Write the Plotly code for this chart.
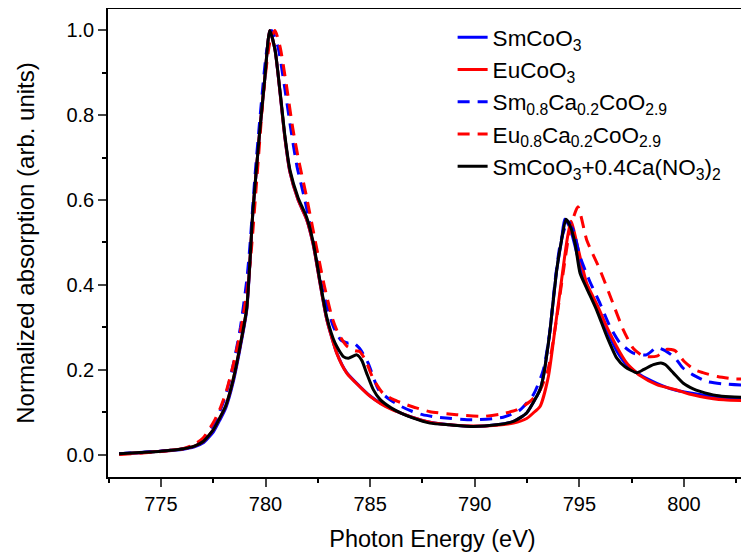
import plotly.graph_objects as go

# ---- data ----
black_x = [773.0, 774.0, 775.0, 776.0, 776.6, 777.0, 777.5, 777.8, 778.1, 778.45, 778.8, 779.1, 779.4,
           779.7, 779.97, 780.2, 780.45, 780.7, 780.93, 781.17, 781.56, 781.96, 782.28, 782.6, 782.92,
           783.32, 783.72, 783.96, 784.36, 784.6, 784.83, 785.15, 785.47, 786.0, 786.5, 787.0, 787.86,
           788.8, 789.93, 791.04, 791.85, 792.48, 792.96, 793.12, 793.28, 793.52, 793.6, 793.92, 794.15,
           794.36, 794.55, 794.79, 795.03, 795.35, 795.83, 796.3, 796.78, 797.18, 797.74, 798.06, 798.54,
           798.9, 799.1, 799.5, 799.97, 800.44, 800.77, 801.55, 802.2, 803.0, 803.5]
black_y = [0.002, 0.005, 0.008, 0.013, 0.02, 0.03, 0.058, 0.085, 0.115, 0.176, 0.26, 0.345, 0.577,
           0.75, 0.89, 1.0, 0.955, 0.853, 0.75, 0.67, 0.605, 0.56, 0.5, 0.41, 0.325,
           0.263, 0.231, 0.227, 0.235, 0.222, 0.192, 0.153, 0.13, 0.11, 0.097, 0.087, 0.074,
           0.07, 0.066, 0.07, 0.078, 0.098, 0.137, 0.153, 0.184, 0.263, 0.294, 0.436, 0.506,
           0.555, 0.54, 0.499, 0.428, 0.392, 0.34, 0.28, 0.228, 0.207, 0.193, 0.2, 0.212,
           0.216, 0.212, 0.192, 0.168, 0.155, 0.149, 0.139, 0.136, 0.135, 0.135]

eu_x = [773.0, 774.0, 775.0, 776.0, 776.6, 777.0, 777.5, 777.8, 778.1, 778.45, 778.8, 779.1, 779.4,
        779.7, 779.97, 780.2, 780.45, 780.7, 780.93, 781.17, 781.56, 781.96, 782.28, 782.6, 782.92,
        783.4, 783.88, 784.5, 785.0, 785.5, 786.0, 786.5, 787.0, 787.86, 788.8, 789.93, 791.04,
        791.85, 792.48, 792.8, 793.12, 793.52, 793.83, 794.15, 794.39, 794.6, 794.95, 795.35, 795.83,
        796.3, 796.78, 797.26, 797.9, 798.7, 799.65, 800.3, 800.77, 801.9, 803.0, 803.5]
eu_y = [0.001, 0.004, 0.008, 0.013, 0.02, 0.03, 0.058, 0.085, 0.115, 0.176, 0.26, 0.345, 0.577,
        0.75, 0.89, 1.0, 0.955, 0.85, 0.745, 0.665, 0.6, 0.555, 0.495, 0.405, 0.32,
        0.239, 0.192, 0.16, 0.137, 0.12, 0.107, 0.097, 0.088, 0.076, 0.07, 0.067, 0.069,
        0.074, 0.085, 0.098, 0.113, 0.184, 0.294, 0.412, 0.499, 0.55, 0.483, 0.404, 0.355,
        0.302, 0.255, 0.216, 0.186, 0.165, 0.152, 0.142, 0.137, 0.129, 0.127, 0.127]

sm_x = [773.0, 774.0, 775.0, 776.0, 776.6, 777.0, 777.5, 777.8, 778.1, 778.45, 778.8, 779.1, 779.4,
        779.7, 779.97, 780.2, 780.45, 780.7, 780.93, 781.17, 781.56, 781.96, 782.28, 782.6, 782.92,
        783.4, 783.88, 784.5, 785.0, 785.5, 786.0, 786.5, 787.0, 787.86, 788.8, 789.93, 791.04,
        791.85, 792.48, 792.96, 793.12, 793.28, 793.52, 793.6, 793.92, 794.15, 794.3, 794.55, 794.85,
        795.2, 795.83, 796.3, 796.78, 797.26, 797.9, 798.7, 799.5, 800.3, 801.9, 803.0, 803.5]
sm_y = [0.002, 0.004, 0.008, 0.012, 0.018, 0.027, 0.053, 0.08, 0.11, 0.17, 0.255, 0.34, 0.575,
        0.75, 0.89, 1.0, 0.955, 0.85, 0.745, 0.665, 0.6, 0.555, 0.495, 0.405, 0.32,
        0.24, 0.193, 0.161, 0.138, 0.121, 0.108, 0.097, 0.088, 0.076, 0.07, 0.066, 0.07,
        0.078, 0.098, 0.137, 0.153, 0.184, 0.263, 0.294, 0.436, 0.506, 0.555, 0.535, 0.48,
        0.415, 0.35, 0.295, 0.245, 0.212, 0.188, 0.168, 0.153, 0.145, 0.133, 0.131, 0.131]

smca_x = [773.0, 775.0, 776.0, 776.6, 777.0, 777.5, 777.8, 778.1, 778.45, 778.8, 779.1, 779.25, 779.5,
          779.8, 780.05, 780.3, 780.6, 780.9, 781.2, 781.5, 781.88, 782.3, 782.76, 783.24, 783.6,
          783.94, 784.16, 784.5, 784.9, 785.4, 785.95, 786.5, 787.0, 787.5, 788.18, 789.93, 791.36,
          792.16, 792.8, 793.28, 793.6, 793.84, 794.1, 794.45, 794.7, 795.03, 795.5, 795.98, 796.46,
          796.94, 797.58, 798.21, 798.7, 799.1, 799.57, 799.95, 800.5, 801.1, 802.0, 803.0, 803.5]
smca_y = [0.002, 0.008, 0.013, 0.022, 0.035, 0.07, 0.1, 0.14, 0.21, 0.3, 0.41, 0.49, 0.66,
          0.83, 0.95, 1.0, 0.96, 0.87, 0.77, 0.68, 0.6, 0.5, 0.381, 0.302, 0.27,
          0.263, 0.265, 0.25, 0.216, 0.153, 0.129, 0.113, 0.102, 0.094, 0.088, 0.082, 0.088,
          0.105, 0.141, 0.2, 0.294, 0.41, 0.5, 0.55, 0.53, 0.467, 0.408, 0.357, 0.302,
          0.263, 0.239, 0.235, 0.252, 0.245, 0.228, 0.204, 0.186, 0.172, 0.166, 0.163, 0.163]

euca_x = [773.0, 775.0, 776.0, 776.6, 777.0, 777.5, 777.8, 778.1, 778.45, 778.8, 779.1, 779.3, 779.6,
          779.9, 780.2, 780.45, 780.7, 781.0, 781.3, 781.6, 781.95, 782.35, 782.8, 783.2, 783.48,
          783.9, 784.27, 784.5, 784.8, 785.15, 785.6, 786.1, 786.6, 787.2, 787.86, 789.13, 790.4,
          791.2, 792.0, 792.64, 793.1, 793.5, 793.85, 794.2, 794.55, 794.93, 795.35, 795.98, 796.54,
          797.1, 797.58, 798.06, 798.7, 799.2, 799.57, 800.0, 800.5, 800.9, 801.6, 802.4, 803.0, 803.5]
euca_y = [0.0, 0.007, 0.013, 0.024, 0.038, 0.075, 0.105, 0.145, 0.21, 0.29, 0.38, 0.47, 0.66,
          0.85, 0.97, 1.0, 0.96, 0.87, 0.77, 0.69, 0.61, 0.51, 0.4, 0.32, 0.285,
          0.255, 0.245, 0.243, 0.22, 0.178, 0.145, 0.13, 0.12, 0.11, 0.101, 0.094, 0.09,
          0.095, 0.105, 0.125, 0.15, 0.2, 0.3, 0.42, 0.53, 0.584, 0.506, 0.436, 0.365,
          0.294, 0.25, 0.232, 0.232, 0.248, 0.245, 0.22, 0.2, 0.193, 0.184, 0.178, 0.178, 0.178]

names = ["SmCoO<sub>3</sub>", "EuCoO<sub>3</sub>",
         "Sm<sub>0.8</sub>Ca<sub>0.2</sub>CoO<sub>2.9</sub>",
         "Eu<sub>0.8</sub>Ca<sub>0.2</sub>CoO<sub>2.9</sub>",
         "SmCoO<sub>3</sub>+0.4Ca(NO<sub>3</sub>)<sub>2</sub>"]

x_ticks = [775, 780, 785, 790, 795, 800]
y_ticks = [0.0, 0.2, 0.4, 0.6, 0.8, 1.0]

FONT = "Liberation Sans, Arial, sans-serif"

fig = go.Figure()
series = [
    (sm_x, sm_y, names[0], "#0000FF", "solid"),
    (eu_x, eu_y, names[1], "#FF0000", "solid"),
    (smca_x, smca_y, names[2], "#0000FF", "12px,8px"),
    (euca_x, euca_y, names[3], "#FF0000", "12px,8px"),
    (black_x, black_y, names[4], "#000000", "solid"),
]
for xs, ys, nm, col, dash in series:
    fig.add_trace(go.Scatter(x=xs, y=ys, name=nm, mode="lines",
                             line=dict(color=col, width=3, dash=dash, shape="spline", smoothing=0.6)))

# page body adds an 8px offset; margins compensate for it
fig.update_layout(
    width=749, height=557,
    margin=dict(l=100, r=0, t=1, b=88, autoexpand=False),
    paper_bgcolor="white", plot_bgcolor="white",
    font=dict(family=FONT, color="black", size=20),
    showlegend=True,
    legend=dict(x=0.531, y=0.985, xanchor="left", yanchor="top",
                font=dict(family=FONT, size=22.5, color="black"),
                bgcolor="rgba(0,0,0,0)", tracegroupgap=0),
)
fig.update_xaxes(
    range=[772.47, 803.49], tickvals=x_ticks, ticks="outside", ticklen=8, tickwidth=1.5,
    showline=True, linecolor="black", linewidth=1.5, mirror=True, showgrid=False, zeroline=False,
    automargin=False,
    minor=dict(dtick=2.5, tick0=772.5, ticks="outside", ticklen=4, tickwidth=1.5, tickcolor="black"),
    tickfont=dict(size=20), title=dict(text="Photon Energy (eV)", font=dict(size=23.5), standoff=17),
)
fig.update_yaxes(
    range=[-0.053, 1.0505], tickvals=y_ticks, tickformat=".1f", ticks="outside", ticklen=8, tickwidth=1.5,
    showline=True, linecolor="black", linewidth=1.5, mirror=False, showgrid=False, zeroline=False,
    automargin=False,
    minor=dict(dtick=0.1, tick0=0, ticks="outside", ticklen=4, tickwidth=1.5, tickcolor="black"),
    tickfont=dict(size=20), title=dict(text="Normalized absorption (arb. units)", font=dict(size=24), standoff=25),
)

fig.write_html("out.html")
